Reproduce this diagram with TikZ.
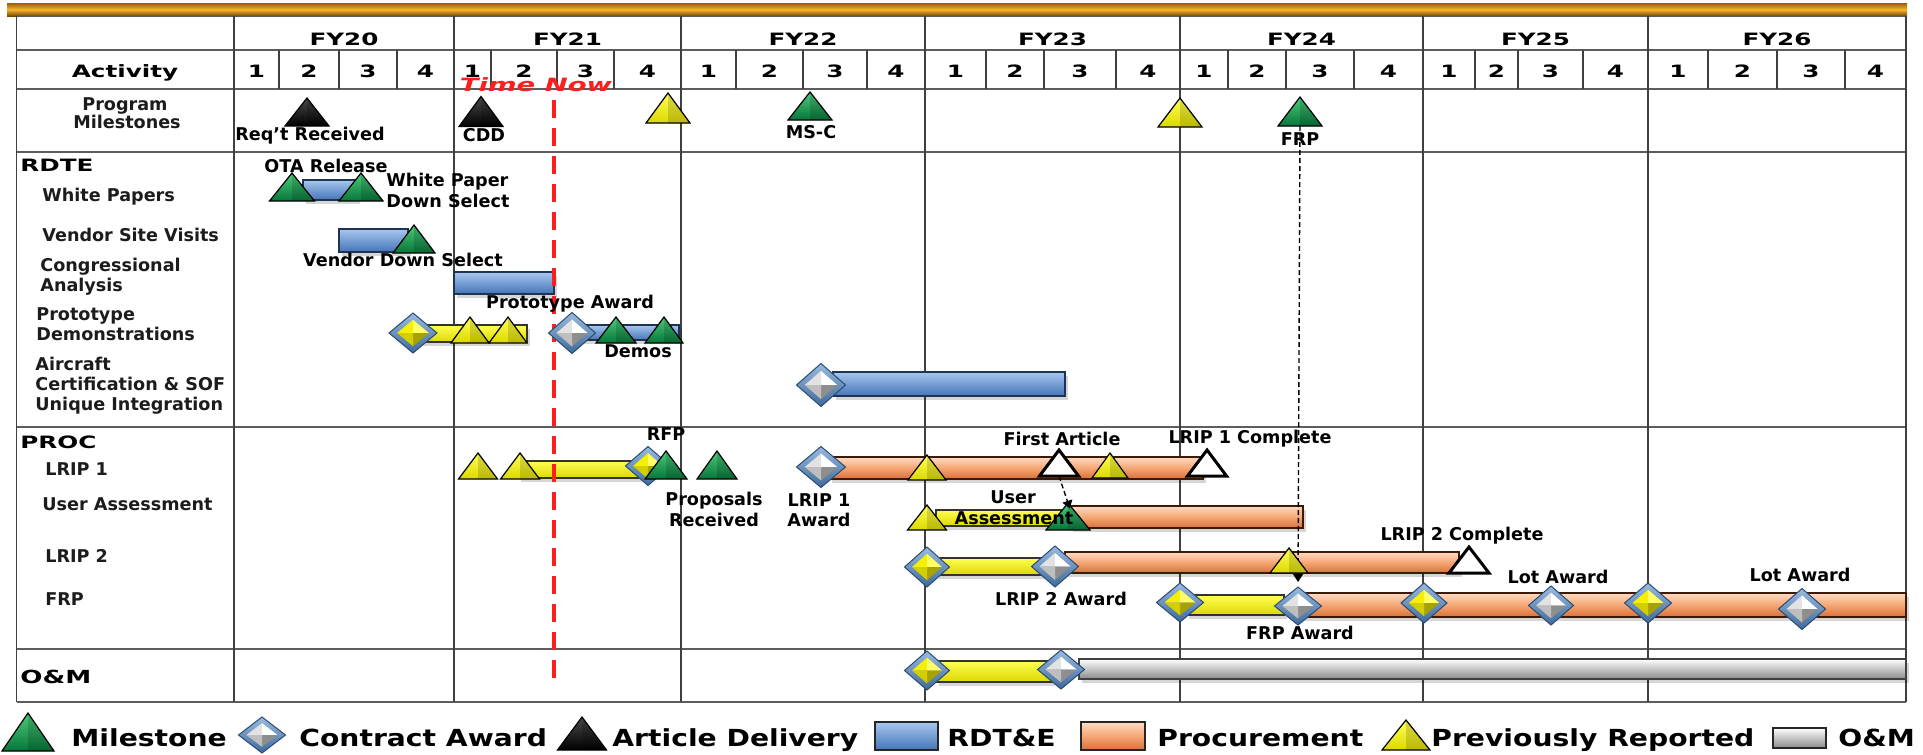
\documentclass[tikz,border=0pt]{standalone}
\usepackage{fontspec}
\usetikzlibrary{arrows.meta,calc}
\setmainfont{DejaVu Sans}
\newfontfamily\hdfont{DejaVu Sans}[FakeStretch=1.45]
\newfontfamily\lbfont{DejaVu Sans}
\newfontfamily\tnfont{DejaVu Sans}[FakeStretch=1.5]
\newfontfamily\lgfont{DejaVu Sans}[FakeStretch=1.2]

\definecolor{gridc}{HTML}{404040}
\definecolor{goldTop}{HTML}{9A6000}
\definecolor{goldMid}{HTML}{F7B52C}
\definecolor{goldBot}{HTML}{7A4800}
\definecolor{msTop}{HTML}{4CCB7A}
\definecolor{msBot}{HTML}{06763A}
\definecolor{ylTop}{HTML}{FFFF55}
\definecolor{ylBot}{HTML}{DCD800}
\definecolor{adTop}{HTML}{4A4A4A}
\definecolor{blTop}{HTML}{A7C7EE}
\definecolor{blBot}{HTML}{4474B8}
\definecolor{blEdge}{HTML}{1E3454}
\definecolor{orTop}{HTML}{FDDCC6}
\definecolor{orMid}{HTML}{F6A673}
\definecolor{orBot}{HTML}{D8703A}
\definecolor{orEdge}{HTML}{3C1A06}
\definecolor{gyBot}{HTML}{8A8A8A}
\definecolor{dmLight}{HTML}{9ABBE0}
\definecolor{dmDark}{HTML}{3F6A9A}
\definecolor{dmEdge}{HTML}{2A4B72}
\definecolor{svnw}{HTML}{E2E2E2}
\definecolor{svne}{HTML}{FFFFFF}
\definecolor{svse}{HTML}{8E8E8E}
\definecolor{svsw}{HTML}{BEBEBE}
\definecolor{ylnw}{HTML}{F4F000}
\definecolor{ylne}{HTML}{FFFF66}
\definecolor{ylse}{HTML}{A8A200}
\definecolor{ylsw}{HTML}{D2CE00}
\definecolor{nowRed}{HTML}{FF1E1E}
\definecolor{lblc}{HTML}{1C1C1C}

\pgfdeclarelayer{gridl}
\pgfdeclarelayer{shadl}
\pgfdeclarelayer{barl}
\pgfdeclarelayer{linkl}
\pgfsetlayers{gridl,shadl,barl,linkl,main}

\tikzset{
  markbox/.style={rectangle,inner sep=0pt,outer sep=0pt},
  msLook/.style={top color=msTop,bottom color=msBot},
  prLook/.style={top color=ylTop,bottom color=ylBot},
  adLook/.style={top color=adTop,bottom color=black},
  artri/.style={fill=white,draw=black,line width=1.5pt,line join=miter},
  dframe/.style={top color=dmLight,bottom color=dmDark,draw=dmEdge,line width=.5pt},
  barshade/.style={fill=black,fill opacity=.16},
  blbar/.style={draw=blEdge,line width=.6pt,top color=blTop,bottom color=blBot},
  orbar/.style={draw=orEdge,line width=.6pt,top color=orTop,bottom color=orBot,middle color=orMid},
  ylbar/.style={draw=black!80,line width=.6pt,top color=ylTop,bottom color=ylBot},
  gybar/.style={draw=black!75,line width=.6pt,top color=white,bottom color=gyBot},
  lgbar/.style={line width=1pt,draw=black!85},
  hline/.style={draw=gridc!85,line width=1.1pt},
  vline/.style={draw=gridc,line width=.9pt},
  hdr/.style={font=\hdfont\bfseries\fontsize{8.5}{10}\selectfont,inner sep=0pt,anchor=base},
  sect/.style={font=\hdfont\bfseries\fontsize{8.5}{10}\selectfont,inner sep=0pt,anchor=base west},
  sectbig/.style={font=\hdfont\bfseries\fontsize{9}{11}\selectfont,inner sep=0pt,anchor=base west},
  rowlbl/.style={font=\lbfont\bfseries\fontsize{8.8}{10}\selectfont,text=lblc,inner sep=0pt,anchor=base west},
  ann/.style={font=\lbfont\bfseries\fontsize{8.8}{10}\selectfont,inner sep=0pt,anchor=base},
  legtxt/.style={font=\lgfont\bfseries\fontsize{11.75}{14}\selectfont,inner sep=0pt,anchor=base west},
  tnow/.style={font=\tnfont\bfseries\itshape\fontsize{9.15}{11}\selectfont,text=nowRed,inner sep=0pt,anchor=base},
  nowline/.style={draw=nowRed,line width=2pt,dash pattern=on 9pt off 5pt},
  linkdash/.style={draw=black,line width=.7pt,dash pattern=on 2.5pt off 1.5pt,-{Triangle[length=4pt,width=5pt]}},
  lgbox/.style={rectangle,inner sep=0pt},
}

% glossy triangle: name, x, y, width, height, look
\newcommand\Tmark[6]{%
  \node[markbox,minimum width=#4,minimum height=#5] (#1) at (#2,#3) {};
  \path[#6] (#1.south west) -- (#1.north) -- (#1.south east) -- cycle;
  \fill[black,opacity=.14] (#1.north) -- (#1.south east) -- (#1.south) -- cycle;
  \draw[black,line width=.6pt,line join=miter] (#1.south west) -- (#1.north) -- (#1.south east) -- cycle;}
% open article triangle: name, x, y, width, height
\newcommand\Amark[5]{%
  \node[markbox,minimum width=#4,minimum height=#5] (#1) at (#2,#3) {};
  \path[artri] (#1.south west) -- (#1.north) -- (#1.south east) -- cycle;}
% bevelled diamond: name, x, y, facet colours (sv/yl), width, height
\newcommand\Dmark[6]{%
  \node[markbox,minimum width=#5,minimum height=#6] (#1) at (#2,#3) {};
  \path[dframe] (#1.north) -- (#1.east) -- (#1.south) -- (#1.west) -- cycle;
  \fill[#4nw] (#1.center) -- ($(#1.center)!.66!(#1.west)$) -- ($(#1.center)!.66!(#1.north)$) -- cycle;
  \fill[#4ne] (#1.center) -- ($(#1.center)!.66!(#1.north)$) -- ($(#1.center)!.66!(#1.east)$) -- cycle;
  \fill[#4se] (#1.center) -- ($(#1.center)!.66!(#1.east)$) -- ($(#1.center)!.66!(#1.south)$) -- cycle;
  \fill[#4sw] (#1.center) -- ($(#1.center)!.66!(#1.south)$) -- ($(#1.center)!.66!(#1.west)$) -- cycle;}
% activity bar with a soft offset shadow: look, x1, y1, x2, y2
\newcommand\Gbar[5]{%
  \begin{pgfonlayer}{shadl}
    \fill[barshade] (#2+2.5,#3+3.5) rectangle (#4+2.5,#5+3.5);
  \end{pgfonlayer}
  \begin{pgfonlayer}{barl}
    \path[#1] (#2,#3) rectangle (#4,#5);
  \end{pgfonlayer}}

\begin{document}
\begin{tikzpicture}[x=0.5pt,y=-0.5pt]
\useasboundingbox (0,0) rectangle (1923,755);

% ---------- table frame ----------
\begin{pgfonlayer}{gridl}
\fill[white] (0,0) rectangle (1923,755);
\path[top color=goldTop,bottom color=goldBot,middle color=goldMid] (7,3) rectangle (1907,16);
\foreach \yy in {15.7,50,89.3,151.7,427,649,701.7}
  \draw[hline] (16.5,\yy) -- (1906,\yy);
\foreach \xx in {16.5,234,454,681,925,1180,1423,1648,1906}
  \draw[vline] (\xx,15.7) -- (\xx,701.7);
\foreach \xx in {279,339,397,491,557,614,736,803,867,986,1044,1116,1228,1286,1354,1475,1518,1583,1708,1777,1845}
  \draw[vline] (\xx,50) -- (\xx,89.3);
\end{pgfonlayer}

% ---------- headings ----------
\foreach \nm/\cx in {FY20/344,FY21/567.5,FY22/803,FY23/1052.5,FY24/1301.5,FY25/1535.5,FY26/1777}
  \node[hdr] (\nm) at (\cx,45.5) {\nm};
\node[hdr] (activity) at (125,77.3) {Activity};
\foreach \a/\b/\q [count=\i] in {234/279/1,279/339/2,339/397/3,397/454/4,
    454/491/1,491/557/2,557/614/3,614/681/4,
    681/736/1,736/803/2,803/867/3,867/925/4,
    925/986/1,986/1044/2,1044/1116/3,1116/1180/4,
    1180/1228/1,1228/1286/2,1286/1354/3,1354/1423/4,
    1423/1475/1,1475/1518/2,1518/1583/3,1583/1648/4,
    1648/1708/1,1708/1777/2,1777/1845/3,1845/1906/4}
  \node[hdr] (q\i) at ({(\a+\b)/2},77.3) {\q};

% ---------- row labels ----------
\node[rowlbl,anchor=base] (rlPM1) at (125,110) {Program};
\node[rowlbl,anchor=base] (rlPM2) at (127,128.3) {Milestones};
\node[sect] (rdte) at (20,171.7) {RDTE};
\node[rowlbl] (rlWP) at (42,201.5) {White Papers};
\node[rowlbl] (rlVS) at (42,241.5) {Vendor Site Visits};
\node[rowlbl] (rlCA1) at (40,271) {Congressional};
\node[rowlbl] (rlCA2) at (40,291.7) {Analysis};
\node[rowlbl] (rlPD1) at (36,320) {Prototype};
\node[rowlbl] (rlPD2) at (36,340) {Demonstrations};
\node[rowlbl] (rlAC1) at (35,370) {Aircraft};
\node[rowlbl] (rlAC2) at (35,390.7) {Certification \& SOF};
\node[rowlbl] (rlAC3) at (35,410) {Unique Integration};
\node[sect] (proc) at (20,448) {PROC};
\node[rowlbl] (rlL1) at (45,475) {LRIP 1};
\node[rowlbl] (rlUA) at (42,510) {User Assessment};
\node[rowlbl] (rlL2) at (45,562.5) {LRIP 2};
\node[rowlbl] (rlFRP) at (45,605.5) {FRP};
\node[sectbig] (om) at (20,683) {O\&M};

% ---------- activity bars ----------
\Gbar{blbar}{303}{180}{357}{200}
\Gbar{blbar}{339}{229}{408}{252}
\Gbar{blbar}{454}{272}{554}{294}
\Gbar{ylbar}{420}{325}{527}{342}
\Gbar{blbar}{576}{325}{679}{340}
\Gbar{blbar}{833}{372}{1065}{396}
\Gbar{ylbar}{518}{461}{647}{478}
\Gbar{orbar}{829}{457}{1203}{479}
\Gbar{ylbar}{936}{510}{1061}{526}
\Gbar{orbar}{1070}{506}{1303}{528}
\Gbar{ylbar}{936}{558}{1047}{575}
\Gbar{orbar}{1065}{552}{1459}{573}
\Gbar{ylbar}{1186}{595}{1284}{615}
\Gbar{orbar}{1300}{593}{1906}{617}
\Gbar{ylbar}{936}{661}{1052}{682}
\Gbar{gybar}{1079}{659}{1906}{679}

% ---------- status line ----------
\node[tnow] (timenow) at (536,91.5) {Time Now};
\coordinate (nowTop) at (553.5,100);
\coordinate (nowBot) at (553.5,684);
\begin{pgfonlayer}{linkl}
\draw[nowline] (nowTop) -- (nowBot);
\end{pgfonlayer}

% ---------- program milestones ----------
\Tmark{pmReq}{307}{112}{22pt}{14pt}{adLook}
\Tmark{pmCDD}{481}{111.5}{22pt}{15pt}{adLook}
\Tmark{pmPrev1}{668}{108}{22pt}{15pt}{prLook}
\Tmark{pmMSC}{810}{106}{22pt}{14pt}{msLook}
\Tmark{pmPrev2}{1180}{112.5}{22pt}{14.5pt}{prLook}
\Tmark{pmFRP}{1300}{111.5}{22pt}{14.5pt}{msLook}

% ---------- RDT&E events ----------
\Tmark{wpOTA}{292}{187}{22.5pt}{14pt}{msLook}
\Tmark{wpDS}{361}{187}{22pt}{14pt}{msLook}
\Tmark{vsDS}{414}{239}{21pt}{14pt}{msLook}
\Dmark{pdPrev}{413}{333}{yl}{24pt}{20pt}
\Tmark{pdPrev1}{470}{330}{19pt}{13pt}{prLook}
\Tmark{pdPrev2}{508}{330}{19pt}{13pt}{prLook}
\Dmark{pdAward}{572}{333}{sv}{23.5pt}{20.5pt}
\Tmark{pdDemo1}{616}{330}{20pt}{13pt}{msLook}
\Tmark{pdDemo2}{664}{330}{19pt}{13pt}{msLook}
\Dmark{acAward}{821}{385}{sv}{24.5pt}{21.5pt}

% ---------- procurement events ----------
\Tmark{l1Prev1}{478}{466}{19.5pt}{13pt}{prLook}
\Tmark{l1Prev2}{520}{466}{19.5pt}{13pt}{prLook}
\Dmark{l1RFP}{648}{466}{yl}{22.5pt}{19.5pt}
\Tmark{l1RFPms}{666}{465}{21pt}{14pt}{msLook}
\Tmark{l1Prop}{717}{465}{20pt}{14pt}{msLook}
\Dmark{l1Award}{821}{467}{sv}{24.5pt}{20.5pt}
\Tmark{l1Prev3}{927}{467.5}{19pt}{12.5pt}{prLook}
\Amark{l1FA}{1059}{463}{19.5pt}{13pt}
\Tmark{l1Prev4}{1110}{465.5}{18pt}{12.5pt}{prLook}
\Amark{l1Done}{1207}{463}{19.5pt}{13pt}

\Tmark{uaPrev}{927}{517.5}{19.5pt}{12.5pt}{prLook}
\Tmark{uaMS}{1068}{516.5}{22pt}{13.5pt}{msLook}

\Dmark{l2Prev}{927}{567}{yl}{22.5pt}{20pt}
\Dmark{l2Award}{1055}{566.5}{sv}{23.5pt}{20.5pt}
\Tmark{l2Prev2}{1289}{560.5}{19pt}{12.5pt}{prLook}
\Amark{l2Done}{1469}{560}{20pt}{13pt}

\Dmark{frPrev}{1180}{602.5}{yl}{23.5pt}{19.5pt}
\Dmark{frAward}{1298}{606}{sv}{23.5pt}{19pt}
\Dmark{frPrev2}{1424}{603}{yl}{23pt}{20pt}
\Dmark{frLot1}{1551}{605.5}{sv}{22.5pt}{19.5pt}
\Dmark{frPrev3}{1648}{603}{yl}{23.5pt}{20pt}
\Dmark{frLot2}{1802}{609}{sv}{23.5pt}{20.5pt}

\Dmark{omPrev}{927}{670.5}{yl}{22.5pt}{19.5pt}
\Dmark{omAward}{1061}{669.5}{sv}{23.5pt}{19.5pt}

% ---------- dependency links ----------
\begin{pgfonlayer}{linkl}
\draw[linkdash,shorten >=2.5pt] (pmFRP.south) -- (frAward.north);
\end{pgfonlayer}
\draw[linkdash,shorten >=-3pt] (l1FA.south) -- (uaMS.north);

% ---------- event labels ----------
\node[ann] (aReq) at (310,140) {Req’t Received};
\node[ann] (aCDD) at (484,141.5) {CDD};
\node[ann] (aMSC) at (811,138) {MS-C};
\node[ann] (aFRP) at (1300,145) {FRP};
\node[ann] (aOTA) at (326,172) {OTA Release};
\node[ann,anchor=base west] (aWP1) at (386,186.5) {White Paper};
\node[ann,anchor=base west] (aWP2) at (386,207) {Down Select};
\node[ann] (aVDS) at (403,266.5) {Vendor Down Select};
\node[ann] (aPA) at (570,308) {Prototype Award};
\node[ann] (aDemos) at (638,357) {Demos};
\node[ann] (aRFP) at (666,440) {RFP};
\node[ann] (aProp1) at (714,505) {Proposals};
\node[ann] (aProp2) at (714,526) {Received};
\node[ann] (aL1A1) at (819,506) {LRIP 1};
\node[ann] (aL1A2) at (819,526.5) {Award};
\node[ann] (aFA) at (1062,445) {First Article};
\node[ann] (aL1C) at (1250,443.5) {LRIP 1 Complete};
\node[ann] (aUA1) at (1013,503) {User};
\node[ann] (aUA2) at (1014,524) {Assessment};
\node[ann] (aL2A) at (1061,605) {LRIP 2 Award};
\node[ann] (aL2C) at (1462,540.5) {LRIP 2 Complete};
\node[ann] (aFRPA) at (1300,639) {FRP Award};
\node[ann] (aLot1) at (1558,583) {Lot Award};
\node[ann] (aLot2) at (1800,581) {Lot Award};

% ---------- legend ----------
\Tmark{lgMS}{28}{732}{26pt}{19pt}{msLook}
\node[legtxt] (lgMSt) at (71,746.5) {Milestone};
\Dmark{lgCA}{262}{735}{sv}{23.5pt}{18pt}
\node[legtxt] (lgCAt) at (299,746.5) {Contract Award};
\Tmark{lgAD}{582}{733.5}{24.5pt}{16.5pt}{adLook}
\node[legtxt] (lgADt) at (612,746.5) {Article Delivery};
\node[lgbox,lgbar,top color=blTop,bottom color=blBot,minimum width=31.5pt,minimum height=14pt] (lgRD) at (906.5,736) {};
\node[legtxt] (lgRDt) at (947,746.5) {RDT\&E};
\node[lgbox,lgbar,top color=orTop,bottom color=orBot,middle color=orMid,minimum width=32pt,minimum height=14pt] (lgPC) at (1113,736) {};
\node[legtxt] (lgPCt) at (1157,746.5) {Procurement};
\Tmark{lgPR}{1406}{735}{24pt}{15pt}{prLook}
\node[legtxt] (lgPRt) at (1431,746.5) {Previously Reported};
\node[lgbox,lgbar,top color=white,bottom color=gyBot,minimum width=26.5pt,minimum height=10pt] (lgOM) at (1799.5,738) {};
\node[legtxt] (lgOMt) at (1838,746.5) {O\&M};
\end{tikzpicture}
\end{document}
